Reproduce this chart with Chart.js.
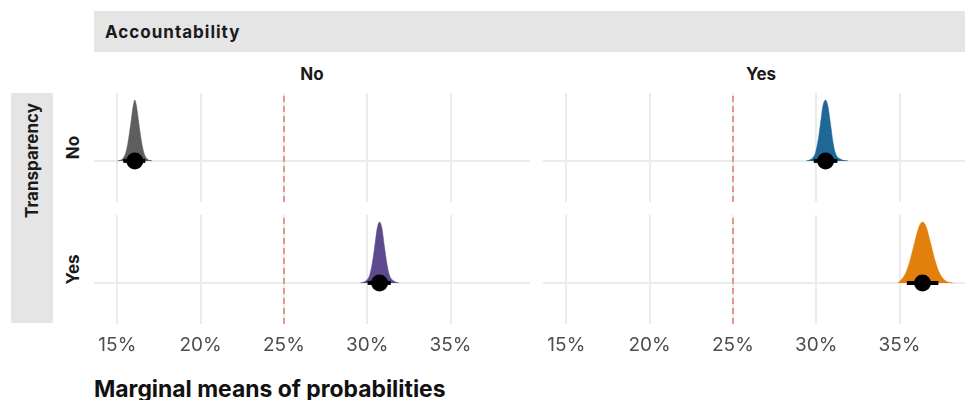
<!DOCTYPE html>
<html>
<head>
<meta charset="utf-8">
<script src="https://cdn.jsdelivr.net/npm/chart.js@4.4.1/dist/chart.umd.min.js"></script>
<style>
  html, body { margin: 0; padding: 0; background: #fff; overflow: hidden; width: 965px; height: 400px; }
  body { position: relative; font-family: Inter, "Noto Sans", sans-serif; color: #1a1a1a; }
  .abs { position: absolute; }
  .strip { background: #e5e5e5; }
  .bold { font-weight: 700; font-size: 17px; }
  .rot { transform: rotate(-90deg); transform-origin: left top; }
  canvas { position: absolute; }
</style>
</head>
<body>
<div class="abs strip bold" style="left:94px;top:11px;width:860px;height:41px;line-height:43px;padding-left:11px;letter-spacing:1px;">Accountability</div>
<div id="colLabels"></div>
<div class="abs strip bold rot" style="left:11px;top:323px;width:220px;height:42px;line-height:42px;text-align:right;padding-right:10px;">Transparency</div>
<div id="rowLabels"></div>
<div class="abs" style="left:94px;top:375px;font-weight:700;font-size:22.9px;color:#111;">Marginal means of probabilities</div>

<script>
// Facets
const colLabels = ['No', 'Yes'];   // Accountability
const rowLabels = ['No', 'Yes'];   // Transparency

// Axis
const tickValues = [15, 20, 25, 30, 35];
const chanceLevel = 25;

// Panels in order: (No,No), (Yes,No), (No,Yes), (Yes,Yes)  -> [accountability, transparency]
const means = [16.05, 30.56, 30.74, 36.38];
const intervalLow = [15.36, 29.85, 30.02, 35.44];
const intervalHigh = [16.68, 31.27, 31.42, 37.33];

// Density slabs (x in %, height relative to peak)
const densityX1 = [15.0, 15.3, 15.5, 15.65, 15.8, 15.95, 16.05, 16.15, 16.3, 16.45, 16.6, 16.8, 17.1];
const densityY1 = [0, 0.03, 0.13, 0.32, 0.6, 0.9, 1.0, 0.9, 0.6, 0.32, 0.13, 0.03, 0];
const densityX2 = [29.4, 29.7, 29.95, 30.1, 30.25, 30.4, 30.56, 30.7, 30.86, 31.0, 31.15, 31.45, 31.9];
const densityY2 = [0, 0.03, 0.13, 0.32, 0.6, 0.9, 1.0, 0.9, 0.6, 0.32, 0.13, 0.03, 0];
const densityX3 = [29.6, 29.9, 30.15, 30.3, 30.45, 30.6, 30.74, 30.88, 31.03, 31.18, 31.33, 31.6, 31.9];
const densityY3 = [0, 0.03, 0.13, 0.32, 0.6, 0.9, 1.0, 0.9, 0.6, 0.32, 0.13, 0.03, 0];
const densityX4 = [34.9, 35.1, 35.4, 35.65, 35.9, 36.15, 36.38, 36.6, 36.85, 37.1, 37.35, 37.65, 37.9, 38.2];
const densityY4 = [0, 0.05, 0.18, 0.39, 0.66, 0.91, 1.0, 0.92, 0.67, 0.4, 0.19, 0.06, 0.015, 0];

const densityX = [densityX1, densityX2, densityX3, densityX4];
const densityY = [densityY1, densityY2, densityY3, densityY4];
const fillColors = ['#5e5e5e', '#1f6896', '#5d4a8e', '#e3800c'];

// layout
const panelLeft = [94, 543];
const panelTop = [93, 215];
const panelW = 436;
const panelH = 109;
const axisH = 40;
const xMin = 13.6, xMax = 39.77;
const yMin = -0.675, yMax = 1.115;

colLabels.forEach((lab, c) => {
  const d = document.createElement('div');
  d.className = 'abs bold';
  d.style.cssText = `left:${panelLeft[c]}px;top:63px;width:${panelW}px;text-align:center;line-height:22px;`;
  d.textContent = lab;
  document.getElementById('colLabels').appendChild(d);
});
rowLabels.forEach((lab, r) => {
  const d = document.createElement('div');
  d.className = 'abs bold rot';
  d.style.cssText = `left:62px;top:${panelTop[r] + panelH}px;width:${panelH}px;height:22px;line-height:22px;text-align:center;`;
  d.textContent = lab;
  document.getElementById('rowLabels').appendChild(d);
});

for (let i = 0; i < 4; i++) {
  const col = i % 2, row = Math.floor(i / 2);
  const cv = document.createElement('canvas');
  cv.width = panelW;
  cv.height = panelH + (row === 1 ? axisH : 0);
  cv.style.left = panelLeft[col] + 'px';
  cv.style.top = panelTop[row] + 'px';
  document.body.appendChild(cv);

  new Chart(cv, {
    type: 'line',
    data: {
      datasets: [
        {
          data: densityX[i].map((x, j) => ({ x: x, y: densityY[i][j] })),
          fill: 'origin',
          backgroundColor: fillColors[i],
          borderColor: fillColors[i],
          borderWidth: 0.5,
          pointRadius: 0,
          cubicInterpolationMode: 'monotone',
          order: 2
        },
        {
          data: [{ x: chanceLevel, y: yMin }, { x: chanceLevel, y: yMax }],
          borderColor: '#e8796c',
          borderWidth: 1.5,
          borderDash: [6, 4],
          pointRadius: 0,
          fill: false,
          order: 3
        },
        {
          data: [{ x: intervalLow[i], y: 0 }, { x: intervalHigh[i], y: 0 }],
          borderColor: '#000',
          borderWidth: 4,
          pointRadius: 0,
          fill: false,
          order: 1
        },
        {
          data: [{ x: means[i], y: 0 }],
          showLine: false,
          pointRadius: 8.5,
          backgroundColor: '#000',
          borderWidth: 0,
          order: 0
        }
      ]
    },
    options: {
      responsive: false,
      animation: false,
      layout: { padding: 0, autoPadding: false },
      plugins: { legend: { display: false }, tooltip: { enabled: false } },
      scales: {
        x: {
          type: 'linear',
          min: xMin,
          max: xMax,
          border: { display: false },
          grid: { color: '#ebebeb', lineWidth: 2, drawTicks: false },
          ticks: {
            display: row === 1,
            padding: 10,
            color: '#4d4d4d',
            font: { family: 'Inter', size: 19 },
            callback: v => v + '%'
          },
          afterBuildTicks: s => { s.ticks = tickValues.map(v => ({ value: v })); },
          afterFit: s => {
            s.height = row === 1 ? axisH : 0;
            s.paddingLeft = 0; s.paddingRight = 0;
          }
        },
        y: {
          type: 'linear',
          min: yMin,
          max: yMax,
          border: { display: false },
          grid: { color: '#ebebeb', lineWidth: 2, drawTicks: false },
          ticks: { display: false },
          afterBuildTicks: s => { s.ticks = [{ value: 0 }]; },
          afterFit: s => { s.width = 0; s.paddingTop = 0; s.paddingBottom = 0; }
        }
      }
    }
  });
}
</script>
</body>
</html>
